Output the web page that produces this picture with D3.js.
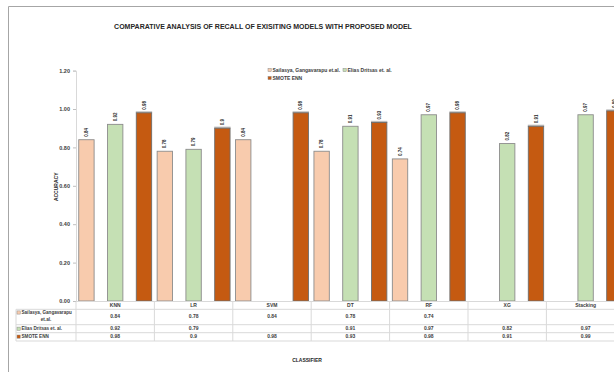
<!DOCTYPE html>
<html>
<head>
<meta charset="utf-8">
<script src="https://cdn.jsdelivr.net/npm/d3@7/dist/d3.min.js"></script>
<style>
  html, body { margin: 0; padding: 0; background: #fff; overflow: hidden; }
  svg { display: block; font-family: "Liberation Sans", Arial, sans-serif; }
</style>
</head>
<body>
<svg id="chart" width="614" height="372"></svg>
<script>
// Classifiers on the category axis
const categories = ["KNN", "LR", "SVM", "DT", "RF", "XG", "Stacking"];

// Recall per classifier for each study (null = not reported)
const seriesNames = ["Sailasya, Gangavarapu et.al.", "Elias Dritsas et. al.", "SMOTE ENN"];
const sailasya = [0.84, 0.78, 0.84, 0.78, 0.74, null, null];
const dritsas  = [0.92, 0.79, null, 0.91, 0.97, 0.82, 0.97];
const smoteEnn = [0.98, 0.9, 0.98, 0.93, 0.98, 0.91, 0.99];

// Value axis ticks
const yTicks = [0, 0.2, 0.4, 0.6, 0.8, 1.0, 1.2];

const seriesValues = [sailasya, dritsas, smoteEnn];
const colors = ["#F8CBAD", "#C5E0B4", "#C55A11"];

const svg = d3.select("#chart");
const ink = "#262626";

// Outer chart frame (left and top edges)
svg.append("path")
  .attr("d", "M8.5,372 L8.5,6.5 L614,6.5")
  .attr("fill", "none").attr("stroke", "#a6a6a6").attr("stroke-width", 1);

// Title
svg.append("text")
  .attr("x", 263).attr("y", 29)
  .attr("text-anchor", "middle")
  .attr("font-size", 7).attr("font-weight", "bold").attr("fill", ink)
  .text("COMPARATIVE ANALYSIS OF RECALL OF EXISITING MODELS WITH PROPOSED MODEL");

// Scales
const x = d3.scaleBand().domain(categories).range([76, 624.8]).padding(0);
const y = d3.scaleLinear().domain([0, 1.2]).range([301, 70.6]);
const bw = x.bandwidth();
const barW = bw * 0.196;
const step = bw * 0.367;

// Value axis
const yAxis = svg.append("g")
  .attr("transform", "translate(76,0)")
  .call(d3.axisLeft(y).tickValues(yTicks).tickFormat(d3.format(".2f")).tickSize(3).tickPadding(3));
yAxis.select(".domain").attr("stroke", "#d9d9d9");
yAxis.selectAll(".tick line").attr("stroke", "#bfbfbf");
yAxis.selectAll(".tick text")
  .attr("font-size", 5.5).attr("font-weight", "bold").attr("fill", "#404040")
  .attr("font-family", "Liberation Sans, Arial, sans-serif");

// Axis titles
svg.append("text")
  .attr("transform", `translate(58,${(y(0) + y(1.2)) / 2 + 1}) rotate(-90)`)
  .attr("text-anchor", "middle")
  .attr("font-size", 5).attr("font-weight", "bold").attr("fill", ink)
  .text("ACCURACY");
svg.append("text")
  .attr("x", 307).attr("y", 362)
  .attr("text-anchor", "middle")
  .attr("font-size", 5).attr("font-weight", "bold").attr("fill", ink)
  .text("CLASSIFIER");

// Bars
const barData = [];
seriesValues.forEach((vals, si) => {
  vals.forEach((v, ci) => {
    if (v !== null) barData.push({ si, cat: categories[ci], v });
  });
});
const barX = d => x(d.cat) + bw / 2 + (d.si - 1) * step - barW / 2;

const bars = svg.append("g");
// faint cap above the SMOTE ENN bars
bars.selectAll("rect.cap")
  .data(barData.filter(d => d.si === 2))
  .join("rect")
  .attr("class", "cap")
  .attr("x", d => barX(d) - 0.5)
  .attr("y", d => y(d.v) - 1.6)
  .attr("width", barW + 1)
  .attr("height", 2)
  .attr("fill", "#bfbfbf");
bars.selectAll("rect.bar")
  .data(barData)
  .join("rect")
  .attr("class", "bar")
  .attr("x", barX)
  .attr("y", d => y(d.v))
  .attr("width", barW)
  .attr("height", d => y(0) - y(d.v))
  .attr("fill", d => colors[d.si])
  .attr("stroke", d => d.si === 2 ? "#6e6e6e" : "#8c8c8c")
  .attr("stroke-width", 0.9);

// Value labels, rotated above each bar
svg.append("g").selectAll("text")
  .data(barData)
  .join("text")
  .attr("transform", d => `translate(${barX(d) + barW / 2},${y(d.v) - 3}) rotate(-90)`)
  .attr("dy", "0.35em")
  .attr("font-size", 4.5).attr("font-weight", "bold").attr("fill", ink)
  .text(d => String(d.v));

// Legend
const legend = [
  { name: seriesNames[0], c: colors[0], lx: 268, ly: 70 },
  { name: seriesNames[1], c: colors[1], lx: 343, ly: 70 },
  { name: seriesNames[2], c: colors[2], lx: 268, ly: 78 }
];
const lg = svg.append("g");
lg.selectAll("rect").data(legend).join("rect")
  .attr("x", d => d.lx).attr("y", d => d.ly - 1.6)
  .attr("width", 3.2).attr("height", 3.2)
  .attr("fill", d => d.c).attr("stroke", "#8c8c8c").attr("stroke-width", 0.5);
lg.selectAll("text").data(legend).join("text")
  .attr("x", d => d.lx + 4.5).attr("y", d => d.ly)
  .attr("dy", "0.35em")
  .attr("font-size", 5).attr("font-weight", "bold").attr("fill", "#404040")
  .text(d => d.name);

// Data table under the plot
const grid = "#d9d9d9";
const tbl = svg.append("g");
const rowLines = [309.3, 324.7, 332.7, 341];
tbl.append("line").attr("x1", 76).attr("x2", 625).attr("y1", 301.5).attr("y2", 301.5)
  .attr("stroke", grid).attr("stroke-width", 1);
tbl.selectAll("line.row").data(rowLines).join("line")
  .attr("class", "row")
  .attr("x1", 16).attr("x2", 625).attr("y1", d => d).attr("y2", d => d)
  .attr("stroke", grid).attr("stroke-width", 1);
const colEdges = categories.map(c => x(c)).concat([x.range()[1]]);
tbl.selectAll("line.col").data(colEdges).join("line")
  .attr("class", "col")
  .attr("x1", d => d).attr("x2", d => d).attr("y1", 301.5).attr("y2", 341)
  .attr("stroke", grid).attr("stroke-width", 1);
tbl.append("line").attr("x1", 16).attr("x2", 16).attr("y1", 309.3).attr("y2", 341)
  .attr("stroke", grid).attr("stroke-width", 1);

// header row: classifier names
tbl.selectAll("text.head").data(categories).join("text")
  .attr("class", "head")
  .attr("x", d => x(d) + bw / 2).attr("y", 305.5).attr("dy", "0.35em")
  .attr("text-anchor", "middle")
  .attr("font-size", 5).attr("font-weight", "bold").attr("fill", "#404040")
  .text(d => d);

// value rows
const rowY = [316, 328.7, 336.6];
seriesValues.forEach((vals, si) => {
  tbl.append("g").selectAll("text").data(vals.map((v, i) => ({ v, cat: categories[i] })).filter(d => d.v !== null))
    .join("text")
    .attr("x", d => x(d.cat) + bw / 2).attr("y", rowY[si]).attr("dy", "0.35em")
    .attr("text-anchor", "middle")
    .attr("font-size", 5).attr("font-weight", "bold").attr("fill", "#404040")
    .text(d => String(d.v));
});

// row labels with legend keys
const rowLabelLines = [["Sailasya, Gangavarapu", "et.al."], [seriesNames[1]], [seriesNames[2]]];
rowLabelLines.forEach((lines, si) => {
  const top = si === 0 ? 312.5 : rowY[si];
  tbl.append("rect")
    .attr("x", 17).attr("y", top - 1.6).attr("width", 3.2).attr("height", 3.2)
    .attr("fill", colors[si]).attr("stroke", "#8c8c8c").attr("stroke-width", 0.5);
  lines.forEach((t, li) => {
    tbl.append("text")
      .attr("x", li === 0 ? 21.5 : 46).attr("y", top + li * 6.8).attr("dy", "0.35em")
      .attr("text-anchor", li === 0 ? "start" : "middle")
      .attr("font-size", 4.6).attr("font-weight", "bold").attr("fill", "#404040")
      .text(t);
  });
});
</script>
</body>
</html>
